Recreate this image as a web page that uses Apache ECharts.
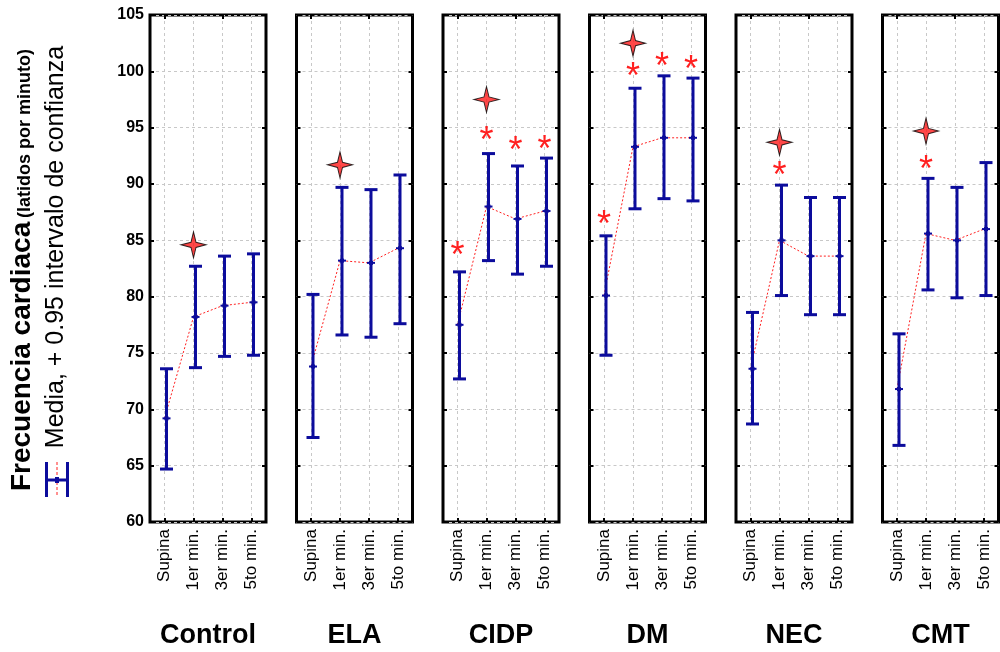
<!DOCTYPE html>
<html>
<head>
<meta charset="utf-8">
<script src="https://cdn.jsdelivr.net/npm/echarts@6/dist/echarts.min.js"></script>
<style>html,body{margin:0;padding:0;background:#fff;}#c{width:1000px;height:652px;}</style>
</head>
<body>
<div id="c"></div>
<script>
const groups = ['Control', 'ELA', 'CIDP', 'DM', 'NEC', 'CMT'];
const categories = ['Supina', '1er min.', '3er min.', '5to min.'];
const yMin = 60, yMax = 105, yStep = 5;

const means = [
  [69.2, 78.2, 79.2, 79.5],
  [73.8, 83.2, 83.0, 84.3],
  [77.5, 88.0, 86.9, 87.6],
  [80.1, 93.3, 94.1, 94.1],
  [73.6, 85.0, 83.6, 83.6],
  [71.8, 85.6, 85.0, 86.0]
];
const lowers = [
  [64.7, 73.7, 74.7, 74.8],
  [67.5, 76.6, 76.4, 77.6],
  [72.7, 83.2, 82.0, 82.7],
  [74.8, 87.8, 88.7, 88.5],
  [68.7, 80.1, 78.4, 78.4],
  [66.8, 80.6, 79.9, 80.1]
];
const uppers = [
  [73.6, 82.7, 83.6, 83.8],
  [80.2, 89.7, 89.5, 90.8],
  [82.2, 92.7, 91.6, 92.3],
  [85.4, 98.5, 99.6, 99.4],
  [78.6, 89.9, 88.8, 88.8],
  [76.7, 90.5, 89.7, 91.9]
];
// red asterisks (significance), position in y units; null = none
const asterisks = [
  [null, null, null, null],
  [null, null, null, null],
  [84.2, 94.4, 93.5, 93.6],
  [87.0, 100.1, 101.0, 100.7],
  [null, 91.3, null, null],
  [null, 91.9, null, null]
];
// four-point star marker at "1er min."
const starCategory = '1er min.';
const starValues = [84.6, 91.7, 97.5, 102.5, 93.7, 94.7];

const BLUE = '#0c0c9c';
const RED = '#ff2020';
const FONT = '"Liberation Sans", Arial, sans-serif';

const chart = echarts.init(document.getElementById('c'), null, {renderer: 'canvas'});

const grids = [], xAxes = [], yAxes = [], series = [];
const gridLeft0 = 150, gridPitch = 146.5, gridW = 116, gridTop = 15, gridH = 507;

groups.forEach((g, i) => {
  grids.push({
    left: gridLeft0 + i * gridPitch, top: gridTop, width: gridW, height: gridH,
    show: true, borderColor: '#000', borderWidth: 3, backgroundColor: 'transparent',
    containLabel: false, outerBoundsMode: 'none'
  });
  // bottom x axis
  xAxes.push({
    type: 'category', gridIndex: i, data: categories, position: 'bottom',
    boundaryGap: true,
    axisLine: {show: false},
    axisTick: {show: true, inside: true, length: 4, alignWithLabel: true, lineStyle: {color: '#000', width: 2}},
    axisLabel: {show: true, rotate: 90, fontSize: 17, color: '#000', fontFamily: FONT, margin: 7, interval: 0},
    splitLine: {show: true, alignWithLabel: true, lineStyle: {color: '#c8c8c8', type: [3, 3], width: 1}},
    name: g, nameLocation: 'middle', nameGap: 114,
    nameTextStyle: {fontSize: 27, fontWeight: 'bold', color: '#000', fontFamily: FONT, verticalAlign: 'middle'}
  });
  // top x axis (ticks only)
  xAxes.push({
    type: 'category', gridIndex: i, data: categories, position: 'top',
    boundaryGap: true,
    axisLine: {show: false},
    axisTick: {show: true, inside: true, length: 4, alignWithLabel: true, lineStyle: {color: '#000', width: 2}},
    axisLabel: {show: false}, splitLine: {show: false}
  });
  // left y axis
  yAxes.push({
    type: 'value', gridIndex: i, min: yMin, max: yMax, interval: yStep, position: 'left',
    axisLine: {show: false},
    axisTick: {show: true, inside: true, length: 4, lineStyle: {color: '#000', width: 2}},
    axisLabel: {show: i === 0, fontSize: 16, fontWeight: 'bold', color: '#000', fontFamily: FONT, margin: 6},
    splitLine: {show: true, lineStyle: {color: '#c8c8c8', type: [3, 3], width: 1}}
  });
  // right y axis (ticks only)
  yAxes.push({
    type: 'value', gridIndex: i, min: yMin, max: yMax, interval: yStep, position: 'right',
    axisLine: {show: false},
    axisTick: {show: true, inside: true, length: 4, lineStyle: {color: '#000', width: 2}},
    axisLabel: {show: false}, splitLine: {show: false}
  });

  const xi = i * 2, yi = i * 2;

  // dotted red mean line
  series.push({
    type: 'line', xAxisIndex: xi, yAxisIndex: yi,
    data: means[i], symbol: 'none', silent: true, z: 3,
    lineStyle: {color: RED, width: 1, type: [2, 2]}
  });

  // error bars
  series.push({
    type: 'custom', xAxisIndex: xi, yAxisIndex: yi, z: 4,
    data: categories.map((c, k) => [k, means[i][k], lowers[i][k], uppers[i][k]]),
    renderItem: function (params, api) {
      const x = api.value(0);
      const pm = api.coord([x, api.value(1)]);
      const pl = api.coord([x, api.value(2)]);
      const pu = api.coord([x, api.value(3)]);
      const cx = pm[0] + 2;
      const capW = 6.5;
      const st = {stroke: BLUE, lineWidth: 3};
      return {
        type: 'group',
        children: [
          {type: 'line', shape: {x1: cx, y1: pu[1], x2: cx, y2: pl[1]}, style: st},
          {type: 'line', shape: {x1: cx - capW, y1: pu[1], x2: cx + capW, y2: pu[1]}, style: st},
          {type: 'line', shape: {x1: cx - capW, y1: pl[1], x2: cx + capW, y2: pl[1]}, style: st},
          {type: 'line', shape: {x1: cx - 4, y1: pm[1], x2: cx + 4, y2: pm[1]}, style: {stroke: BLUE, lineWidth: 2}},
          {type: 'rect', shape: {x: cx - 2, y: pm[1] - 2, width: 4, height: 4}, style: {fill: BLUE}}
        ]
      };
    }
  });

  // asterisks
  series.push({
    type: 'custom', xAxisIndex: xi, yAxisIndex: yi, z: 5,
    data: categories.map((c, k) => [k, asterisks[i][k]]).filter(d => d[1] !== null),
    renderItem: function (params, api) {
      const p = api.coord([api.value(0), api.value(1)]);
      return {
        type: 'text', x: p[0], y: p[1] + 8,
        style: {text: '*', fill: RED, font: '36px ' + FONT, align: 'center', verticalAlign: 'middle'}
      };
    }
  });

  // star marker
  series.push({
    type: 'scatter', xAxisIndex: xi, yAxisIndex: yi, z: 6,
    data: [[starCategory, starValues[i]]],
    symbol: 'path://M0,-12 L2.4,-2.4 L12,0 L2.4,2.4 L0,12 L-2.4,2.4 L-12,0 L-2.4,-2.4 Z',
    symbolSize: [25, 26],
    itemStyle: {color: '#ff1a1a', borderColor: '#000', borderWidth: 1}
  });
});

const graphic = [
  {
    type: 'text', x: 22, y: 270, rotation: Math.PI / 2,
    style: {
      text: '{a|Frecuencia cardiaca}{s| }{b|(latidos por minuto)}',
      align: 'center', verticalAlign: 'middle', fill: '#000',
      rich: {
        a: {font: 'bold 28px ' + FONT, fill: '#000', verticalAlign: 'bottom'},
        s: {font: 'bold 14px ' + FONT, fill: '#000', verticalAlign: 'bottom'},
        b: {font: 'bold 18px ' + FONT, fill: '#000', verticalAlign: 'bottom', padding: [0, 0, 2, 0]}
      }
    }
  },
  {
    type: 'text', x: 56, y: 247, rotation: Math.PI / 2,
    style: {text: 'Media, + 0.95 intervalo de confianza', font: '25px ' + FONT, fill: '#000', align: 'center', verticalAlign: 'middle'}
  },
  // legend glyph (rotated error bar)
  {type: 'line', shape: {x1: 46.5, y1: 462, x2: 46.5, y2: 497}, style: {stroke: BLUE, lineWidth: 3}},
  {type: 'line', shape: {x1: 67.5, y1: 462, x2: 67.5, y2: 497}, style: {stroke: BLUE, lineWidth: 3}},
  {type: 'line', shape: {x1: 46.5, y1: 480, x2: 67.5, y2: 480}, style: {stroke: BLUE, lineWidth: 3}},
  {type: 'line', shape: {x1: 57, y1: 462, x2: 57, y2: 497}, style: {stroke: RED, lineWidth: 1, lineDash: [3, 2]}},
  {type: 'rect', shape: {x: 55, y: 477, width: 4, height: 6}, style: {fill: BLUE}}
];

chart.setOption({
  animation: false,
  backgroundColor: '#fff',
  grid: grids,
  xAxis: xAxes,
  yAxis: yAxes,
  series: series,
  graphic: graphic
});
</script>
</body>
</html>
